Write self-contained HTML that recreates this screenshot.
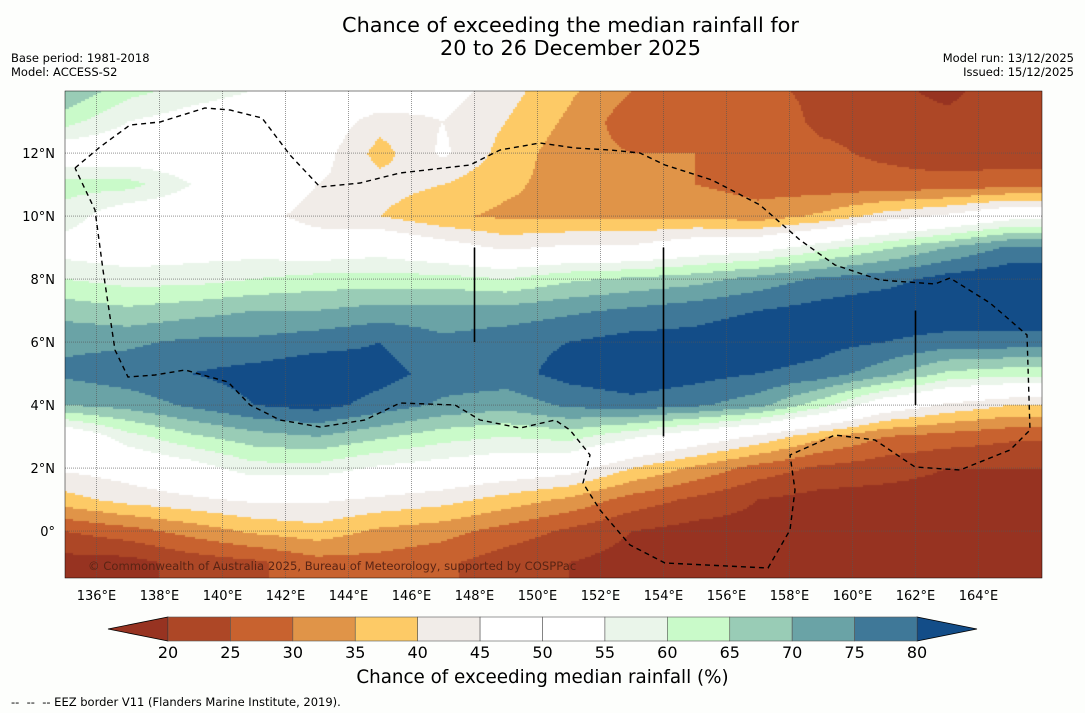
<!DOCTYPE html>
<html><head><meta charset="utf-8">
<style>
body{margin:0;background:#fdfefc;font-family:"DejaVu Sans","Liberation Sans",sans-serif;}
#wrap{position:relative;width:1085px;height:713px;overflow:hidden;background:#fdfefc;}
.t{position:absolute;white-space:nowrap;color:#000;}
</style></head><body>
<div id="wrap">
<div class="t" style="left:0;width:1141px;top:14px;text-align:center;font-size:20.8px;line-height:23px;">Chance of exceeding the median rainfall for<br>20 to 26 December 2025</div>
<div class="t" style="left:11px;top:51px;font-size:11.5px;line-height:14px;">Base period: 1981-2018<br>Model: ACCESS-S2</div>
<div class="t" style="right:11px;top:51px;font-size:11.5px;line-height:14px;text-align:right;">Model run: 13/12/2025<br>Issued: 15/12/2025</div>
<canvas id="map" width="977" height="487" style="position:absolute;left:65px;top:91px;"></canvas>
<svg id="ov" width="1085" height="713" style="position:absolute;left:0;top:0;font-family:'DejaVu Sans',sans-serif;"></svg>
<div class="t" style="left:0;width:1085px;top:667px;text-align:center;font-size:18.3px;">Chance of exceeding median rainfall (%)</div>
<div class="t" style="left:11px;top:695px;font-size:11.5px;">-- &nbsp;-- &nbsp;-- EEZ border V11 (Flanders Marine Institute, 2019).</div>
</div>
<script>
const lons=[135,137,139,141,143,145,147,149,151,153,155,157,159,161,163,165];
const lats=[14,13,12,11,10,9,8,7,6,5,4,3,2,1,0,-1];
const grid=[
[70,62,58,55,52,52,48,42,36,30,30,26,24,22,18,24],
[62,55,52,50,50,42,45,40,34,27,28,28,24,24,22,25],
[50,50,50,50,48,38,46,38,32,30,30,28,26,24,22,22],
[62,62,55,52,45,42,40,36,33,32,30,28,27,27,27,28],
[58,50,50,48,42,40,36,34,34,34,34,32,36,42,46,52],
[52,50,52,52,50,52,48,44,46,46,50,52,58,64,70,76],
[60,58,58,60,62,62,62,60,64,66,68,72,76,78,82,84],
[68,66,68,70,70,72,72,72,74,76,78,80,82,84,84,84],
[74,74,76,76,78,80,76,78,80,82,82,84,82,80,78,78],
[76,78,80,82,84,82,78,78,82,84,82,80,78,72,64,62],
[70,72,76,80,82,78,74,72,76,78,76,72,62,50,44,40],
[48,58,64,68,70,66,62,60,62,56,50,44,36,30,28,26],
[46,48,52,58,58,54,52,50,48,40,34,28,24,22,20,20],
[38,42,44,46,46,44,42,38,34,28,24,20,18,18,18,18],
[25,28,32,36,38,34,32,28,24,20,18,18,18,18,18,18],
[18,18,22,24,28,28,26,22,20,18,18,18,18,18,18,18]];
const bounds=[20,25,30,35,40,45,50,55,60,65,70,75,80];
const colors=["#973321","#ad4726","#c8622f","#e09448","#fdca66","#f1ece8","#ffffff","#ffffff","#eaf5ea","#c9fac9","#99ccb6","#6aa3a6","#3f7898","#134d88"];
const tickLons=[136,138,140,142,144,146,148,150,152,154,156,158,160,162,164];
const tickLats=[12,10,8,6,4,2,0];
const X0=65,Y0=91,PX=31.5;
function xOf(lon){return X0+(lon-135)*PX;}
function yOf(lat){return Y0+(13.97-lat)*PX;}
function val(lon,lat){
  let fi=(lon-135)/2, fj=(14-lat);
  fi=Math.max(0,Math.min(lons.length-1.0001,fi)); fj=Math.max(0,Math.min(lats.length-1.0001,fj));
  const i=Math.floor(fi),j=Math.floor(fj),a=fi-i,b=fj-j;
  return grid[j][i]*(1-a)*(1-b)+grid[j][i+1]*a*(1-b)+grid[j+1][i]*(1-a)*b+grid[j+1][i+1]*a*b;
}
function colOf(v){let k=0;while(k<bounds.length&&v>=bounds[k])k++;return colors[k];}
const cv=document.getElementById('map'),ctx=cv.getContext('2d');
for(let py=0;py<487;py+=2)for(let px=0;px<977;px+=2){
  const lon=135+(px+1)/PX, lat=13.97-(py+1)/PX;
  ctx.fillStyle=colOf(val(lon,lat));ctx.fillRect(px,py,2,2);
}
const NS='http://www.w3.org/2000/svg',ov=document.getElementById('ov');
function mk(tag,at){const e=document.createElementNS(NS,tag);for(const k in at)e.setAttribute(k,at[k]);ov.appendChild(e);return e;}
tickLons.forEach(l=>{
  const g=mk('line',{x1:xOf(l),x2:xOf(l),y1:91,y2:578,stroke:'#555','stroke-width':0.6,'stroke-dasharray':'1,1'});
  
  
  const t=mk('text',{x:xOf(l),y:600,'text-anchor':'middle','font-size':13});t.textContent=l+'°E';
  
  
});
tickLats.forEach(l=>{
  const g=mk('line',{x1:65,x2:1042,y1:yOf(l),y2:yOf(l),stroke:'#555','stroke-width':0.6,'stroke-dasharray':'1,1'});
  
  
  const t=mk('text',{x:55,y:yOf(l)+5,'text-anchor':'end','font-size':13});t.textContent=l===0?'0°':l+'°N';
  
  
});
const eez=[[75,168],[100,147],[130,125],[160,122],[205,108],[230,110],[262,118],[290,155],[320,187],[360,183],[400,173],[470,165],[500,150],[540,143],[575,148],[610,150],[640,153],[665,165],[712,180],[760,205],[800,240],[835,265],[880,280],[935,284],[950,278],[990,303],[1027,335],[1030,430],[1010,450],[960,470],[915,467],[875,440],[835,435],[790,455],[795,490],[790,530],[768,568],[665,563],[630,545],[600,510],[583,483],[590,455],[570,430],[555,420],[520,428],[480,420],[455,405],[400,403],[365,420],[320,427],[280,420],[250,405],[228,382],[185,370],[155,375],[128,377],[115,350],[103,270],[95,210],[75,168]];
const e=mk('polyline',{points:eez.map(p=>p.join(',')).join(' '),fill:'none',stroke:'#000','stroke-width':1.4,'stroke-dasharray':'5,4'});


[[148,6,9],[154,3,9],[162,4,7]].forEach(s=>{
  const l=mk('line',{x1:xOf(s[0]),x2:xOf(s[0]),y1:yOf(s[2]),y2:yOf(s[1]),stroke:'#000','stroke-width':1.6});
  
  
});
const cp=mk('text',{x:88,y:570,'font-size':11.6,fill:'#5a2414'});cp.textContent='© Commonwealth of Australia 2025, Bureau of Meteorology, supported by COSPPac';


const fr=mk('rect',{x:65,y:91,width:977,height:487,fill:'none',stroke:'#000','stroke-width':0.5});


const cbL=168,cbR=917,cbT=617,cbB=641;
function cx(v){return cbL+(v-20)/60*(cbR-cbL);}
const la=mk('polygon',{points:`108,629 ${cbL},${cbT} ${cbL},${cbB}`,fill:colors[0],stroke:'#000','stroke-width':0.8});


const ra=mk('polygon',{points:`977,629 ${cbR},${cbT} ${cbR},${cbB}`,fill:colors[13],stroke:'#000','stroke-width':0.8});


for(let k=0;k<12;k++){
  const r=mk('rect',{x:cx(bounds[k]),y:cbT,width:cx(bounds[k+1])-cx(bounds[k]),height:cbB-cbT,fill:colors[k+1],stroke:'#555','stroke-width':0.6});
  
  
}
bounds.forEach(b=>{
  const t=mk('text',{x:cx(b),y:658,'text-anchor':'middle','font-size':16});t.textContent=b;
  
  
});
</script>
</body></html>
